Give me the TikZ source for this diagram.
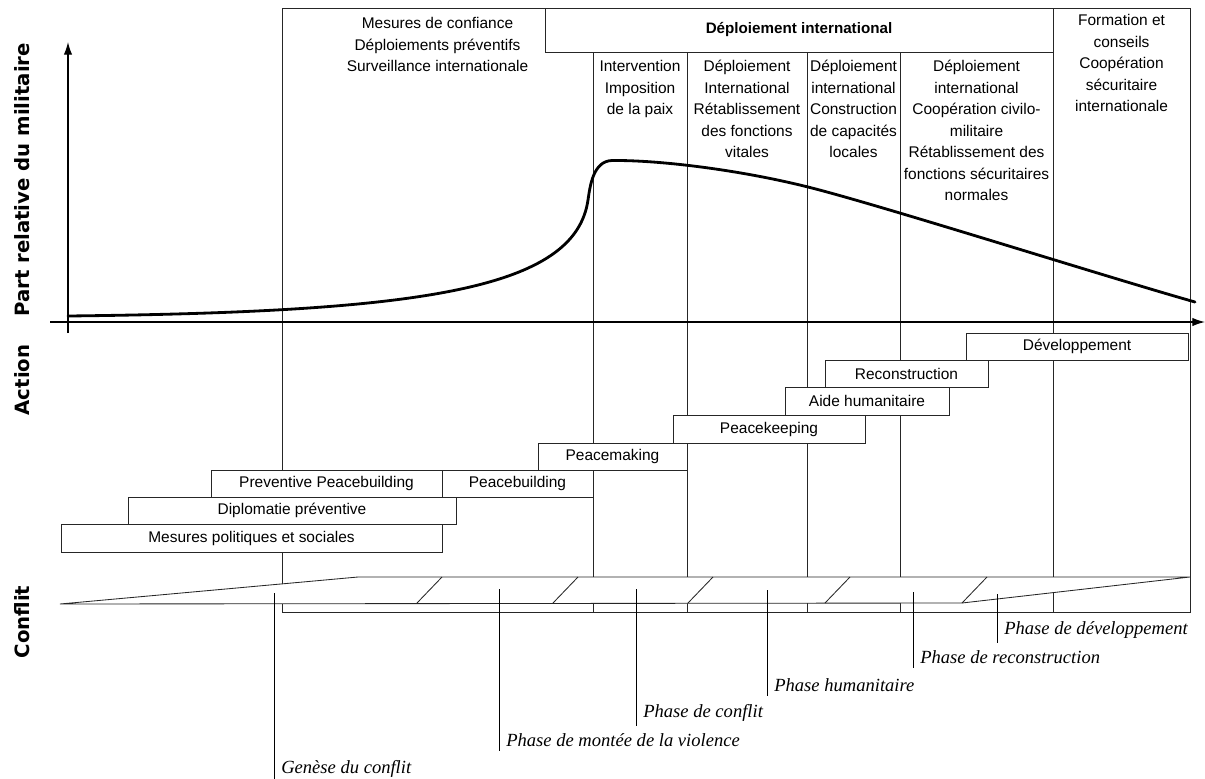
\documentclass[tikz,border=0pt]{standalone}
\usepackage{fontspec}
\setmainfont{Liberation Sans}
\newfontfamily\phasefont{Liberation Serif}
\newfontfamily\sidefont{DejaVu Sans}
\usepackage{tikz}
\usetikzlibrary{arrows.meta,positioning}

\tikzset{
    gridline/.style={line width=0.6pt, draw=black!85},
    actionbox/.style={line width=0.6pt, draw=black!85, fill=white},
    coltext/.style={font=\fontsize{11}{15.3}\selectfont, align=center, anchor=north, inner sep=0pt},
    phase/.style={font=\phasefont\itshape\fontsize{13.2}{15}\selectfont, anchor=west, inner xsep=5pt, inner ysep=3pt},
    marker/.style={line width=0.6pt},
    sidelabel/.style={font=\sidefont\bfseries\fontsize{14}{16}\selectfont, rotate=90},
    curve/.style={line width=2pt, line cap=round},
    axis/.style={line width=0.9pt, -{Latex[length=9pt,width=6pt]}}
}

\begin{document}
\begin{tikzpicture}[x=0.025cm, y=-0.025cm, font=\fontsize{11}{13}\selectfont]
    \useasboundingbox (0,0) rectangle (1205,778);

    % frame and columns
    \draw[gridline] (282,8) rectangle (1190,612);
    \draw[gridline] (545,8) -- (545,52) -- (1053,52);
    \foreach \x in {593,687,807,900} {
        \draw[gridline] (\x,52) -- (\x,612);
    }
    \draw[gridline] (1053,8) -- (1053,612);

    % column headers
    \node[font=\bfseries\fontsize{10.8}{13}\selectfont] (deploi) at (799,30) {Déploiement international};
    \node[coltext] (confiance) at (437.5,17) {Mesures de confiance\\Déploiements préventifs\\Surveillance internationale};
    \node[coltext] (intervention) at (640,60) {Intervention\\Imposition\\de la paix};
    \node[coltext] (vitales) at (747,60) {Déploiement\\International\\Rétablissement\\des fonctions\\vitales};
    \node[coltext] (capacites) at (853.5,60) {Déploiement\\international\\Construction\\de capacités\\locales};
    \node[coltext] (civilo) at (976.5,60) {Déploiement\\international\\Coopération civilo-\\militaire\\Rétablissement des\\fonctions sécuritaires\\normales};
    \node[coltext] (formation) at (1121.5,14) {Formation et\\conseils\\Coopération\\sécuritaire\\internationale};

    % side labels
    \node[sidelabel] (partlabel) at (22,180) {Part relative du militaire};
    \node[sidelabel] (actionlabel) at (22,380) {Action};
    \node[sidelabel] (conflitlabel) at (22,622) {Conflit};

    % actions
    \draw[actionbox] (61,524) rectangle (442,552) node[pos=.5] (mesures) {Mesures politiques et sociales};
    \draw[actionbox] (128,497) rectangle (456,524) node[pos=.5] (diplomatie) {Diplomatie préventive};
    \draw[actionbox] (211,470) rectangle (442,497) node[pos=.5] (prevbuild) {Preventive Peacebuilding};
    \draw[actionbox] (442,470) rectangle (593,497) node[pos=.5] (peacebuild) {Peacebuilding};
    \draw[actionbox] (538,443) rectangle (687,470) node[pos=.5] (peacemaking) {Peacemaking};
    \draw[actionbox] (673,415) rectangle (865,443) node[pos=.5] (peacekeeping) {Peacekeeping};
    \draw[actionbox] (785,387) rectangle (949,415) node[pos=.5] (aide) {Aide humanitaire};
    \draw[actionbox] (825,360) rectangle (988,387) node[pos=.5] (reconstr) {Reconstruction};
    \draw[actionbox] (966,333) rectangle (1188,360) node[pos=.5] (develop) {Développement};

    % conflict band
    \draw[gridline, fill=white] (60,604) -- (358,577) -- (1190,577) -- (962,603) -- cycle;
    \foreach \a in {417,553,688,825,962} {
        \draw[gridline] (\a,603) -- ++(25,-26);
    }

    % phases
    \coordinate (mgenese) at (274,593);
    \coordinate (mmontee) at (499,589);
    \coordinate (mconflit) at (636,589);
    \coordinate (mhuma) at (767,590);
    \coordinate (mrecon) at (913,592);
    \coordinate (mdevel) at (997,594);
    \node[phase] (genese) at (274,769) {Genèse du conflit};
    \node[phase] (montee) at (499,740) {Phase de montée de la violence};
    \node[phase] (conflit) at (636,713) {Phase de conflit};
    \node[phase] (huma) at (767,685) {Phase humanitaire};
    \node[phase] (recon) at (913,657) {Phase de reconstruction};
    \node[phase] (devel) at (997,630) {Phase de développement};
    \draw[marker] (mgenese) -- (mgenese |- genese.south);
    \draw[marker] (mmontee) -- (mmontee |- montee.south);
    \draw[marker] (mconflit) -- (mconflit |- conflit.south);
    \draw[marker] (mhuma) -- (mhuma |- huma.south);
    \draw[marker] (mrecon) -- (mrecon |- recon.south);
    \draw[marker] (mdevel) -- (mdevel |- devel.south);

    % axes
    \coordinate (ybot) at (68,333);
    \coordinate (ytop) at (68,42);
    \coordinate (xleft) at (50,322);
    \coordinate (xright) at (1205,322);
    \draw[axis] (ybot) -- (ytop);
    \draw[axis] (xleft) -- (xright);

    % military share
    \draw[curve] (68,316) .. controls (420,312) and (575,290) .. (588,200)
        .. controls (590,186.5) and (593,161) .. (612,160.5)
        .. controls (660,160) and (740,170) .. (808,187)
        .. controls (880,205) and (1100,275) .. (1195,302);
\end{tikzpicture}
\end{document}
